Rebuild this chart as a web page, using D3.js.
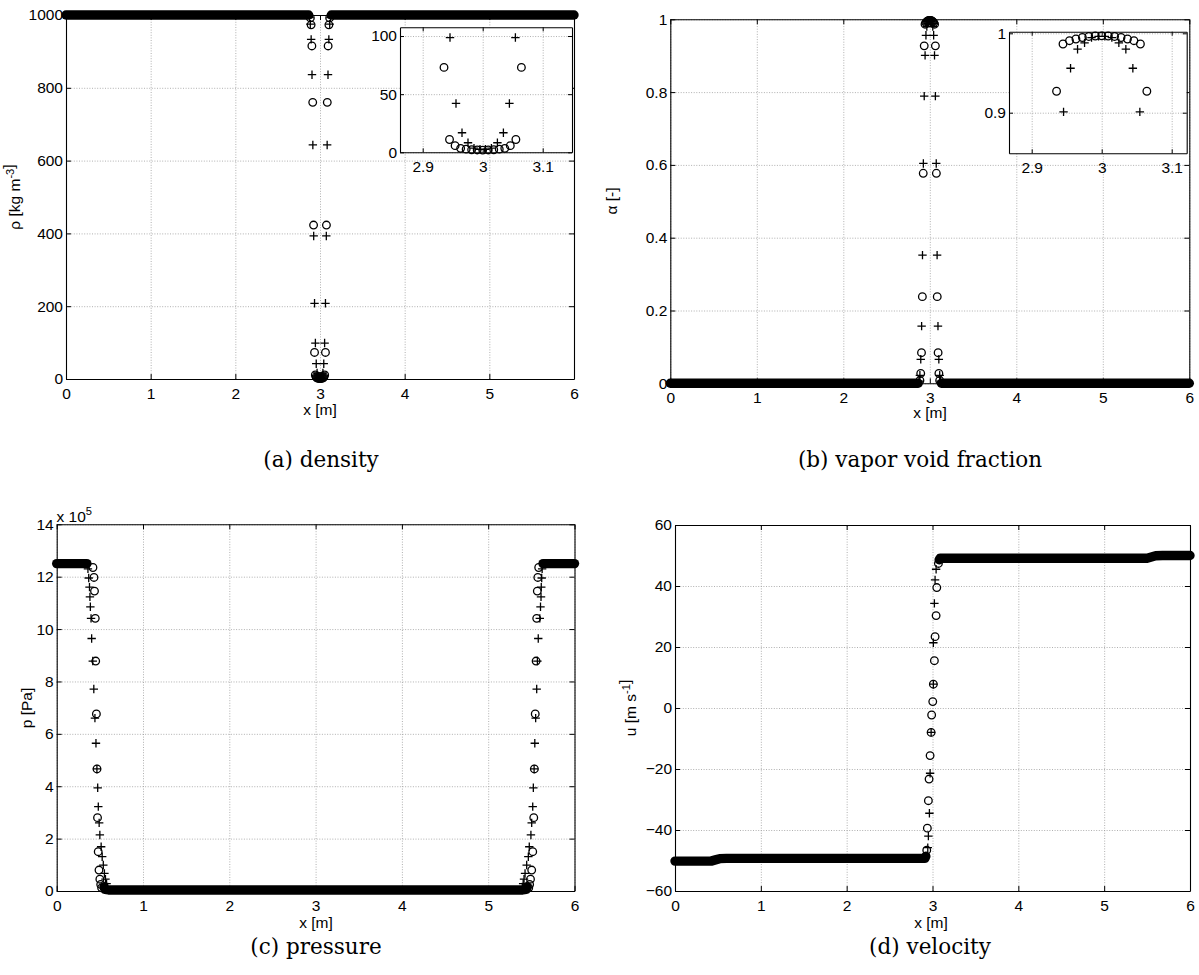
<!DOCTYPE html>
<html><head><meta charset="utf-8">
<script src="https://cdn.jsdelivr.net/npm/d3@7"></script>
<style>body{margin:0;background:#fff} svg{display:block}</style>
</head><body>
<svg id="c" width="1199" height="975"></svg>
<script>
// ---------- tick labels ----------
const xTicks=[0,1,2,3,4,5,6];
const rhoTicks=[0,200,400,600,800,1000];
const alphaTicks=[0,0.2,0.4,0.6,0.8,1];
const pTicks=[0,2,4,6,8,10,12,14];
const uTicks=[-60,-40,-20,0,20,40,60];
const insetXTicks=[2.9,3,3.1];
const rhoInsetTicks=[0,50,100];
const alphaInsetTicks=[0.9,1];

// ---------- density / void fraction (spike at x = 3) ----------
const spikeCircleX=[2.886,2.895,2.904,2.914,2.924,2.9355,2.9447,2.954,2.9632,2.9724,2.9816,2.9908,3.0,3.0092,3.0184,3.0276,3.0368,3.046,3.0553,3.0645,3.076,3.086,3.096,3.105,3.114];
const rhoCircle=[992,973,915,760,423,73,11,5.7,3.4,2.7,2.2,2.0,1.9,2.0,2.2,2.7,3.4,5.7,11,73,423,760,915,973,992];
const alphaCircle=[0.008,0.027,0.084,0.238,0.577,0.927,0.9865,0.9907,0.9928,0.9947,0.996,0.9966,0.9968,0.9966,0.996,0.9947,0.9928,0.9907,0.9865,0.927,0.577,0.238,0.084,0.027,0.008];
const spikePlusX=[2.8755,2.8855,2.8955,2.9055,2.9155,2.9255,2.9355,2.9455,2.9555,2.9655,2.9755,2.9855,2.9955,3.0045,3.0145,3.0245,3.0345,3.0445,3.0545,3.0645,3.0745,3.0845,3.0945,3.1045,3.1145,3.1245];
const rhoPlus=[993,975,933,836,643,393,208,98.7,42,16.8,8.2,3.6,2.6,2.6,3.6,8.2,16.8,42,98.7,208,393,643,836,933,975,993];
const alphaPlus=[0.006,0.022,0.066,0.157,0.352,0.604,0.789,0.901,0.956,0.980,0.988,0.9945,0.9962,0.9962,0.9945,0.988,0.980,0.956,0.901,0.789,0.604,0.352,0.157,0.066,0.022,0.006];
// dense plateaus (hundreds of overlapping markers)
const rhoBandL=[[0,1000],[2.866,1000]];
const rhoBandR=[[3.134,1000],[6,1000]];
const alphaBandL=[[0,0],[2.866,0]];
const alphaBandR=[[3.134,0],[6,0]];

// ---------- pressure (x 1e5 Pa) ----------
const pCircleXL=[0.42,0.432,0.438,0.447,0.452,0.46,0.467,0.473,0.481,0.49,0.5,0.51,0.52];
const pCircleXR=[5.585,5.575,5.569,5.562,5.555,5.545,5.535,5.528,5.516,5.504,5.49,5.48,5.47];
const pCircle=[12.35,11.97,11.45,10.41,8.78,6.76,4.66,2.80,1.50,0.80,0.45,0.25,0.12];
const pPlusXL=[0.362,0.371,0.38,0.385,0.39,0.398,0.405,0.418,0.43,0.443,0.455,0.466,0.475,0.482,0.492,0.5,0.515,0.527,0.54,0.553,0.565,0.578,0.59];
const pPlusXR=[5.625,5.62,5.615,5.612,5.606,5.598,5.58,5.57,5.562,5.55,5.54,5.532,5.523,5.516,5.504,5.495,5.476,5.465,5.446,5.427,5.415,5.405,5.395];
const pPlus=[12.3,11.95,11.6,11.23,10.85,10.41,9.64,8.78,7.71,6.6,5.64,4.66,3.94,3.22,2.6,2.14,1.69,1.31,0.99,0.67,0.45,0.28,0.15];
const pBandL=[[0,12.5],[0.35,12.5]];
const pBandMid=[[0.548,0.16],[0.56,0.06],[0.6,0.04],[5.4,0.04],[5.44,0.06],[5.452,0.16]];
const pBandR=[[5.635,12.5],[6,12.5]];

// ---------- velocity ----------
const uCircleX=[2.933,2.94,2.952,2.96,2.972,2.984,2.99,3.003,3.01,3.022,3.03,3.042,3.05,3.069];
const uCircle=[-46.6,-39.4,-30.4,-23.3,-15.6,-8.0,-2.3,2.1,7.8,15.5,23.4,30.3,39.5,47.4];
const uPlusX=[2.945,2.952,2.964,2.972,2.984,3.01,3.01,3.022,3.03,3.042];
const uPlus=[-45.8,-42,-34.5,-21.4,-8.0,7.8,21.4,34.3,42,45.5];
const uBandL=[[0,-50.2],[0.42,-50.2],[0.47,-49.8],[0.52,-49.4],[0.6,-49.3],[2.912,-49.3],[2.922,-48.6]];
const uBandR=[[3.078,48.6],[3.088,49.1],[5.5,49.1],[5.55,49.5],[5.6,49.9],[5.68,50],[6,50]];

// ---------- drawing ----------
const svg=d3.select('#c');
const SANS='"Liberation Sans", Arial, Helvetica, sans-serif';
const SERIF='"DejaVu Serif", "Liberation Serif", serif';
const FS=15.5;

function axesBox(g,x,y,o){
  const [xa,xb]=x.range(), [yb,ya]=y.range();
  const H=yb-ya, W=xb-xa;
  if(o.fill) g.append('rect').attr('x',xa).attr('y',ya).attr('width',W).attr('height',H).attr('fill','#fff');
  const gx=g.append('g').attr('transform',`translate(0,${yb})`)
    .call(d3.axisBottom(x).tickValues(o.xt).tickSize(-H).tickFormat(''));
  const gy=g.append('g').attr('transform',`translate(${xa},0)`)
    .call(d3.axisLeft(y).tickValues(o.yt).tickSize(-W).tickFormat(''));
  [gx,gy].forEach(s=>{s.select('.domain').remove();
    s.selectAll('line').attr('stroke','#9c9c9c').attr('stroke-width',0.8).attr('stroke-dasharray','1,1.6');});
  const L=o.tl||5;
  const ax=[
    g.append('g').attr('transform',`translate(0,${yb})`).call(d3.axisBottom(x).tickValues(o.xt).tickSizeInner(-L).tickSizeOuter(0).tickPadding(9).tickFormat(o.xf||d3.format(''))),
    g.append('g').attr('transform',`translate(0,${ya})`).call(d3.axisTop(x).tickValues(o.xt).tickSizeInner(-L).tickSizeOuter(0).tickFormat('')),
    g.append('g').attr('transform',`translate(${xa},0)`).call(d3.axisLeft(y).tickValues(o.yt).tickSizeInner(-L).tickSizeOuter(0).tickPadding(3).tickFormat(o.yf||d3.format(''))),
    g.append('g').attr('transform',`translate(${xb},0)`).call(d3.axisRight(y).tickValues(o.yt).tickSizeInner(-L).tickSizeOuter(0).tickFormat(''))
  ];
  ax.forEach(s=>{s.attr('font-family',SANS).attr('font-size',FS);
    s.selectAll('line').attr('stroke','#000').attr('stroke-width',1);
    s.select('.domain').attr('stroke','#000').attr('stroke-width',1.1);
    s.selectAll('text').attr('fill','#000');});
}

function marks(g,x,y,o){
  const inD=(d)=>{
    if(!o.clip) return true;
    const [x0,x1]=x.domain(), [y0,y1]=y.domain();
    return d[0]>=x0&&d[0]<=x1&&d[1]>=y0&&d[1]<=y1;
  };
  const line=d3.line().x(d=>x(d[0])).y(d=>y(d[1]));
  (o.bands||[]).forEach(b=>{
    g.append('path').attr('d',line(b)).attr('fill','none').attr('stroke','#000')
      .attr('stroke-width',9.4).attr('stroke-linecap','round').attr('stroke-linejoin','round');
  });
  (o.circles||[]).forEach(arr=>{
    g.selectAll(null).data(arr.filter(inD)).join('circle')
      .attr('cx',d=>x(d[0])).attr('cy',d=>y(d[1])).attr('r',3.8)
      .attr('fill','none').attr('stroke','#000').attr('stroke-width',1.3);
  });
  (o.pluses||[]).forEach(arr=>{
    const s=4.2;
    g.selectAll(null).data(arr.filter(inD)).join('path')
      .attr('d',d=>{const px=x(d[0]),py=y(d[1]);return `M${px-s},${py}H${px+s}M${px},${py-s}V${py+s}`;})
      .attr('fill','none').attr('stroke','#000').attr('stroke-width',1.3);
  });
}

function ylabel(g,cx,cy,parts){
  const t=g.append('text').attr('transform',`translate(${cx},${cy}) rotate(-90)`)
    .attr('text-anchor','middle').attr('font-family',SANS).attr('font-size',FS).attr('fill','#000');
  parts.forEach(p=>{
    if(p.sup){ t.append('tspan').attr('font-size',FS*0.72).attr('dy',-6).text(p.sup);
               t.append('tspan').attr('dy',6).text(''); }
    else t.append('tspan').text(p.t);
  });
}
function xlabel(g,cx,cy){
  g.append('text').attr('x',cx).attr('y',cy).attr('text-anchor','middle')
    .attr('font-family',SANS).attr('font-size',FS).attr('fill','#000').text('x [m]');
}
function caption(g,cx,cy,txt){
  g.append('text').attr('x',cx).attr('y',cy).attr('text-anchor','middle')
    .attr('font-family',SERIF).attr('font-size',21.5).attr('fill','#000').text(txt);
}
const Z=(a,b)=>d3.zip(a,b);

// ---- (a) density ----
{
  const g=svg.append('g');
  const x=d3.scaleLinear().domain([0,6]).range([66,574]);
  const y=d3.scaleLinear().domain([0,1000]).range([379,15]);
  axesBox(g,x,y,{xt:xTicks,yt:rhoTicks});
  marks(g,x,y,{bands:[rhoBandL,rhoBandR],circles:[Z(spikeCircleX,rhoCircle)],pluses:[Z(spikePlusX,rhoPlus)]});
  const xi=d3.scaleLinear().domain([2.9,3.1]).range([422.7,542.7]);
  const xin=d3.scaleLinear().domain([xi.invert(400),xi.invert(572)]).range([400,572]);
  const yin=d3.scaleLinear().domain([0,107.5]).range([152.3,27.3]);
  axesBox(g,xin,yin,{xt:insetXTicks,yt:rhoInsetTicks,fill:true,tl:4});
  marks(g,xin,yin,{clip:true,circles:[Z(spikeCircleX,rhoCircle)],pluses:[Z(spikePlusX,rhoPlus)]});
  ylabel(g,20,197,[{t:'ρ [kg m'},{sup:'-3'},{t:']'}]);
  xlabel(g,320,415);
  caption(g,321,467,'(a) density');
}
// ---- (b) void fraction ----
{
  const g=svg.append('g');
  const x=d3.scaleLinear().domain([0,6]).range([670.3,1189.3]);
  const y=d3.scaleLinear().domain([0,1]).range([383.3,19.3]);
  axesBox(g,x,y,{xt:xTicks,yt:alphaTicks});
  marks(g,x,y,{bands:[alphaBandL,alphaBandR],circles:[Z(spikeCircleX,alphaCircle)],pluses:[Z(spikePlusX,alphaPlus)]});
  const xi=d3.scaleLinear().domain([2.9,3.1]).range([1031.7,1171.7]);
  const xin=d3.scaleLinear().domain([xi.invert(1009),xi.invert(1186.7)]).range([1009,1186.7]);
  const yi=d3.scaleLinear().domain([0.9,1]).range([112.7,33.3]);
  const yin=d3.scaleLinear().domain([yi.invert(153.3),yi.invert(31.7)]).range([153.3,31.7]);
  axesBox(g,xin,yin,{xt:insetXTicks,yt:alphaInsetTicks,fill:true,tl:4});
  marks(g,xin,yin,{clip:true,circles:[Z(spikeCircleX,alphaCircle)],pluses:[Z(spikePlusX,alphaPlus)]});
  ylabel(g,617,201,[{t:'α [-]'}]);
  xlabel(g,930,418);
  caption(g,920,467,'(b) vapor void fraction');
}
// ---- (c) pressure ----
{
  const g=svg.append('g');
  const x=d3.scaleLinear().domain([0,6]).range([56.7,574.5]);
  const y=d3.scaleLinear().domain([0,14]).range([891,524.3]);
  axesBox(g,x,y,{xt:xTicks,yt:pTicks});
  marks(g,x,y,{bands:[pBandL,pBandMid,pBandR],
    circles:[Z(pCircleXL,pCircle),Z(pCircleXR,pCircle)],
    pluses:[Z(pPlusXL,pPlus),Z(pPlusXR,pPlus)]});
  const t=g.append('text').attr('x',56.5).attr('y',522).attr('font-family',SANS).attr('font-size',FS).attr('fill','#000');
  t.append('tspan').text('x 10');
  t.append('tspan').attr('font-size',FS*0.72).attr('dy',-7).text('5');
  ylabel(g,32,708,[{t:'p [Pa]'}]);
  xlabel(g,316,928);
  caption(g,316,954,'(c) pressure');
}
// ---- (d) velocity ----
{
  const g=svg.append('g');
  const x=d3.scaleLinear().domain([0,6]).range([675,1190]);
  const y=d3.scaleLinear().domain([-60,60]).range([891,525]);
  axesBox(g,x,y,{xt:xTicks,yt:uTicks});
  marks(g,x,y,{bands:[uBandL,uBandR],circles:[Z(uCircleX,uCircle)],pluses:[Z(uPlusX,uPlus)]});
  ylabel(g,636,708,[{t:'u [m s'},{sup:'-1'},{t:']'}]);
  xlabel(g,931,928);
  caption(g,930,954,'(d) velocity');
}
</script>
</body></html>
